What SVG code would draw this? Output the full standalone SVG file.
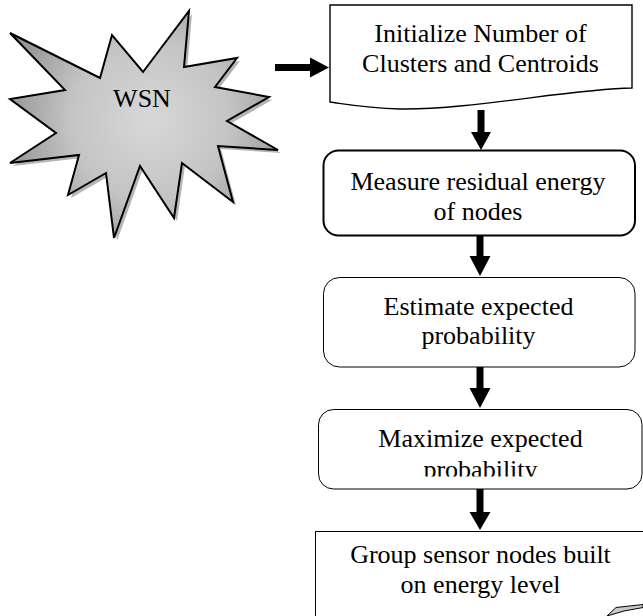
<svg xmlns="http://www.w3.org/2000/svg" width="643" height="616" viewBox="0 0 643 616">
  <style>
    .t { font-family: "Liberation Serif", "Times New Roman", serif; font-size: 26px; fill: #000; text-anchor: middle; }
    .box { fill: #fff; stroke: #000; }
    .arrow { fill: #000; stroke: none; }
  </style>
  <defs>
    <radialGradient id="starGrad" cx="150" cy="120" r="160" gradientUnits="userSpaceOnUse">
      <stop offset="0" stop-color="#d8d8d8"/>
      <stop offset="0.5" stop-color="#c4c4c4"/>
      <stop offset="1" stop-color="#8a8a8a"/>
    </radialGradient>
    <clipPath id="clip4">
      <rect x="300" y="400" width="343" height="76.5"/>
    </clipPath>
  </defs>
  <rect width="643" height="616" fill="#fff"/>

  <g id="wsn">
    <polygon transform="translate(3,3)" fill="#b5b5b5" points="10,33 100,78 112,35 143,72 189,11 184,67 237,58 215,87 269,97 227,121 278,150 218,146 233,202 182,163 174,218 140,166 114,238 106,173 68,195 79,155 10,163 56,133 10,99 65,90"/>
    <polygon fill="url(#starGrad)" stroke="#000" stroke-width="2" stroke-linejoin="miter" points="10,33 100,78 112,35 143,72 189,11 184,67 237,58 215,87 269,97 227,121 278,150 218,146 233,202 182,163 174,218 140,166 114,238 106,173 68,195 79,155 10,163 56,133 10,99 65,90"/>
    <text class="t" x="142" y="107">WSN</text>
  </g>

  <g id="init">
    <path class="box" stroke-width="1.4" d="M330,5 H632 V88 C 570,89 470,110 400,109 C 365,108 345,104 330,102 Z"/>
    <text class="t" x="480.5" y="42">Initialize Number of</text>
    <text class="t" x="480.5" y="72">Clusters and Centroids</text>
  </g>

  <g id="measure">
    <rect class="box" stroke-width="2" x="323.5" y="150.5" width="311.5" height="85" rx="15" ry="15"/>
    <text class="t" x="478" y="190">Measure residual energy</text>
    <text class="t" x="478" y="220">of nodes</text>
  </g>

  <g id="estimate">
    <rect class="box" stroke-width="1" x="323.5" y="277.5" width="311.5" height="89.5" rx="16" ry="16"/>
    <text class="t" x="478.5" y="315">Estimate expected</text>
    <text class="t" x="478.5" y="344">probability</text>
  </g>

  <g id="maximize">
    <rect class="box" stroke-width="1" x="318.5" y="409.5" width="323.5" height="79.5" rx="15" ry="15"/>
    <text class="t" x="480.5" y="447">Maximize expected</text>
    <text class="t" x="480.5" y="478" clip-path="url(#clip4)">probability</text>
  </g>

  <g id="group">
    <rect class="box" stroke-width="1" x="315.5" y="531.5" width="360" height="120"/>
    <text class="t" x="480.5" y="563">Group sensor nodes built</text>
    <text class="t" x="480.5" y="593">on energy level</text>
    <polygon fill="#c8c8c8" stroke="#000" stroke-width="1" points="607,616 616,607.5 643,604.5 643,607.5 624,611"/>
  </g>

  <g id="connectors">
    <polygon class="arrow" points="275,64 310,64 310,57.5 329,67.5 310,77.5 310,71 275,71"/>
    <polygon class="arrow" points="477.5,110 484.5,110 484.5,132 491,132 481,150 471,132 477.5,132"/>
    <polygon class="arrow" points="476.5,236 483.5,236 483.5,256 490.5,256 480,276 469.5,256 476.5,256"/>
    <polygon class="arrow" points="476.5,367 483.5,367 483.5,388 490.5,388 480,408 469.5,388 476.5,388"/>
    <polygon class="arrow" points="476.5,489 483.5,489 483.5,512 490.5,512 480,530 469.5,512 476.5,512"/>
  </g>
</svg>
